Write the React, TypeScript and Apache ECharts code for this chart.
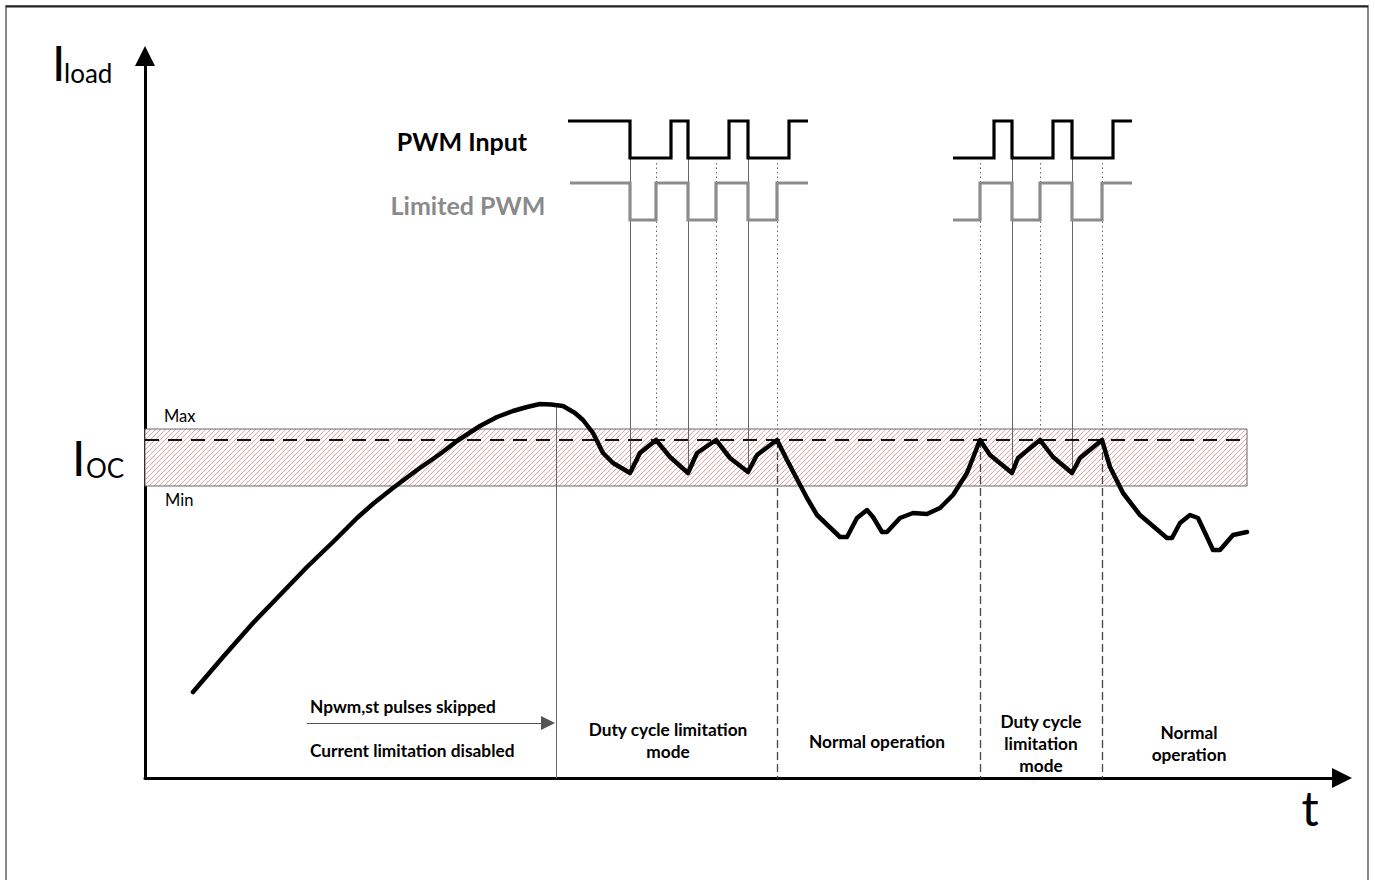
import React, { useEffect, useRef } from "react";
import * as echarts from "echarts";

// Time (t) and load current (I) in arbitrary units
const loadCurve: [number, number][] = [
  [4.8, 8.6], [7.8, 12.1], [10.8, 15.5], [13.5, 18.3], [16.2, 21.1], [18.8, 23.6],
  [21.2, 26.0], [22.9, 27.5], [24.8, 29.0], [27.2, 30.8], [29.5, 32.4], [31.2, 33.7],
  [33.5, 35.2], [35.2, 36.1], [36.8, 36.7], [38.2, 37.1], [39.5, 37.4],
  [40.6, 37.35], [41.8, 37.2], [43.0, 36.5], [43.8, 35.8],
  [44.8, 34.5], [45.8, 32.5], [46.8, 31.5], [48.5, 30.5], [49.5, 32.5], [51.1, 33.8],
  [52.5, 32.1], [54.3, 30.5], [55.2, 32.5], [57.1, 33.8], [58.5, 32.0], [60.3, 30.6],
  [61.2, 32.3], [63.2, 33.8], [64.2, 31.8], [66.2, 28.0], [67.2, 26.3], [69.5, 24.1],
  [70.2, 24.1], [71.2, 26.0], [72.2, 26.8], [72.8, 26.1], [73.7, 24.6], [74.2, 24.6],
  [75.5, 26.0], [76.8, 26.5], [78.2, 26.4], [79.5, 27.0], [80.8, 28.3], [82.2, 30.5],
  [83.5, 33.8], [84.5, 32.3], [86.7, 30.5], [87.3, 32.0], [89.5, 33.8], [90.8, 32.1],
  [92.7, 30.5], [93.5, 32.0], [95.7, 33.8], [96.5, 31.1], [97.8, 28.5], [99.5, 26.3],
  [102.2, 24.0], [102.7, 24.0], [103.5, 25.5], [104.5, 26.3], [105.3, 26.0], [106.2, 24.1],
  [106.8, 22.8], [107.5, 22.8], [108.8, 24.3], [110.2, 24.6],
];

const iocMax = 34.9;
const iocMin = 29.2;
const iocLevel = 33.8;
const bandStart = 0;
const bandEnd = 110.2;

const pwmInputHigh = 65.7;
const pwmInputLow = 62.0;
const limitedHigh = 59.5;
const limitedLow = 55.8;

const pwmInputEdges1 = [42.3, 48.5, 52.6, 54.3, 58.4, 60.3, 64.4, 66.3]; // starts high
const limitedEdges1 = [42.5, 48.5, 51.1, 54.3, 57.1, 60.3, 63.2, 66.3]; // starts high
const pwmInputEdges2 = [80.8, 84.9, 86.7, 90.8, 92.7, 96.8, 98.7]; // starts low
const limitedEdges2 = [80.8, 83.5, 86.7, 89.5, 92.7, 95.7, 98.7]; // starts low

// guide lines: [t, fromI, toI]
const solidGuides: [number, number, number][] = [
  [48.5, 62.0, 30.5], [54.3, 62.0, 30.5], [60.3, 62.0, 30.6],
  [86.7, 62.0, 30.5], [92.7, 62.0, 30.5], [41.1, 37.4, 0],
];
const dottedGuides: [number, number, number][] = [
  [51.1, 61.5, 33.8], [57.1, 61.5, 33.8], [63.2, 61.5, 33.8],
  [83.5, 61.5, 33.8], [89.5, 61.5, 33.8], [95.7, 61.5, 33.8],
];
const dashedGuides: [number, number, number][] = [
  [63.2, 33.8, 0], [83.5, 33.8, 0], [95.7, 33.8, 0],
];
const skipArrow: [number, number][] = [[16.2, 5.5], [40.3, 5.5]];

const xMax = 119.7;
const yMax = 72.2;

function stepPoints(edges: number[], hi: number, lo: number, startHigh: boolean) {
  const pts: [number, number][] = [];
  let level = startHigh ? hi : lo;
  pts.push([edges[0], level]);
  for (let i = 1; i < edges.length - 1; i++) {
    pts.push([edges[i], level]);
    level = level === hi ? lo : hi;
    pts.push([edges[i], level]);
  }
  pts.push([edges[edges.length - 1], level]);
  return pts;
}

function makeHatch() {
  const c = document.createElement("canvas");
  c.width = 5;
  c.height = 5;
  const ctx = c.getContext("2d")!;
  ctx.fillStyle = "#ffffff";
  ctx.fillRect(0, 0, 5, 5);
  ctx.strokeStyle = "#e6a3a3";
  ctx.lineWidth = 1;
  ctx.beginPath();
  ctx.moveTo(-1, 6);
  ctx.lineTo(6, -1);
  ctx.moveTo(-1, 1);
  ctx.lineTo(1, -1);
  ctx.moveTo(4, 6);
  ctx.lineTo(6, 4);
  ctx.stroke();
  return c;
}

const FONT = "Lato, 'Open Sans', sans-serif";

function txt(text: string, x: number, y: number, size: number, opts: any = {}) {
  return {
    type: "text",
    silent: true,
    z: 20,
    style: {
      text,
      x,
      y,
      fill: opts.fill || "#000",
      font: `${opts.bold ? "bold " : ""}${size}px ${FONT}`,
      textAlign: opts.align || "left",
      align: opts.align || "left",
      textVerticalAlign: opts.v || "middle",
      verticalAlign: opts.v || "middle",
    },
  };
}

export default function App() {
  const ref = useRef<HTMLDivElement>(null);
  useEffect(() => {
    document.body.style.margin = "0";
    const chart = echarts.init(ref.current!, undefined, { renderer: "svg" });
    const guideSeries = (arr: [number, number, number][], style: any) => ({
      type: "lines",
      coordinateSystem: "cartesian2d",
      silent: true,
      z: 3,
      lineStyle: { opacity: 1, ...style },
      data: arr.map(([t, a, b]) => ({ coords: [[t, a], [t, b]] })),
    });
    const stepSeries = (data: [number, number][], color: string) => ({
      type: "line",
      data,
      symbol: "none",
      silent: true,
      z: 5,
      lineStyle: { color, width: 3.2, join: "miter" },
    });
    chart.setOption({
      animation: false,
      backgroundColor: "#fff",
      grid: { left: 145, top: 56, width: 1197, height: 722 },
      xAxis: {
        type: "value",
        min: 0,
        max: xMax,
        axisLine: {
          show: true,
          onZero: false,
          lineStyle: { color: "#000", width: 3 },
          symbol: ["none", "triangle"],
          symbolSize: [20, 20],
        },
        axisTick: { show: false },
        axisLabel: { show: false },
        splitLine: { show: false },
      },
      yAxis: {
        type: "value",
        min: 0,
        max: yMax,
        axisLine: {
          show: true,
          onZero: false,
          lineStyle: { color: "#000", width: 3 },
          symbol: ["none", "triangle"],
          symbolSize: [20, 20],
        },
        axisTick: { show: false },
        axisLabel: { show: false },
        splitLine: { show: false },
      },
      series: [
        {
          type: "line",
          name: "Ioc",
          data: [[bandStart, iocLevel], [bandEnd, iocLevel]],
          symbol: "none",
          silent: true,
          z: 4,
          lineStyle: { color: "#111", width: 2, type: [14, 9] },
          markArea: {
            silent: true,
            z: 1,
            itemStyle: {
              color: { image: makeHatch(), repeat: "repeat" },
              borderColor: "#666",
              borderWidth: 1,
            },
            data: [[{ coord: [bandStart, iocMax] }, { coord: [bandEnd, iocMin] }]],
          },
        },
        guideSeries(solidGuides, { color: "#666", width: 1, type: "solid" }),
        guideSeries(dottedGuides, { color: "#666", width: 1, type: [1.5, 3] }),
        guideSeries(dashedGuides, { color: "#444", width: 1.3, type: [8, 4] }),
        {
          type: "lines",
          coordinateSystem: "cartesian2d",
          silent: true,
          z: 3,
          symbol: ["none", "triangle"],
          symbolSize: [13, 14],
          lineStyle: { color: "#555", width: 1, opacity: 1 },
          itemStyle: { color: "#000" },
          data: [{ coords: skipArrow }],
        },
        stepSeries(stepPoints(pwmInputEdges1, pwmInputHigh, pwmInputLow, true), "#000"),
        stepSeries(stepPoints(pwmInputEdges2, pwmInputHigh, pwmInputLow, false), "#000"),
        stepSeries(stepPoints(limitedEdges1, limitedHigh, limitedLow, true), "#8c8c8c"),
        stepSeries(stepPoints(limitedEdges2, limitedHigh, limitedLow, false), "#8c8c8c"),
        {
          type: "line",
          name: "Iload",
          data: loadCurve,
          symbol: "none",
          silent: true,
          z: 6,
          lineStyle: { color: "#000", width: 4.5, join: "round", cap: "round" },
        },
      ],
      graphic: [
        {
          type: "rect",
          silent: true,
          shape: { x: 6, y: 6, width: 1362, height: 890 },
          style: { fill: "none", stroke: "#888", lineWidth: 2 },
        },
        {
          type: "line",
          silent: true,
          shape: { x1: 6, y1: 6.5, x2: 1368, y2: 6.5 },
          style: { stroke: "#222", lineWidth: 2 },
        },
        txt("I", 52, 86, 48, { v: "bottom" }),
        txt("load", 64, 86, 26, { v: "bottom" }),
        txt("I", 72, 481, 48, { v: "bottom" }),
        txt("OC", 86, 481, 26, { v: "bottom" }),
        txt("Max", 164, 416, 16.5),
        txt("Min", 165, 500, 16.5),
        txt("PWM Input", 462, 141, 25, { bold: true, align: "center" }),
        txt("Limited PWM", 468, 205, 25, { bold: true, align: "center", fill: "#8a8a8a" }),
        txt("Npwm,st pulses skipped", 310, 706, 17.3, { bold: true }),
        txt("Current limitation disabled", 310, 750, 17.3, { bold: true }),
        txt("Duty cycle limitation", 668, 729, 17.3, { bold: true, align: "center" }),
        txt("mode", 668, 751, 17.3, { bold: true, align: "center" }),
        txt("Normal operation", 877, 741, 17.3, { bold: true, align: "center" }),
        txt("Duty cycle", 1041, 721, 17.3, { bold: true, align: "center" }),
        txt("limitation", 1041, 743, 17.3, { bold: true, align: "center" }),
        txt("mode", 1041, 765, 17.3, { bold: true, align: "center" }),
        txt("Normal", 1189, 732, 17.3, { bold: true, align: "center" }),
        txt("operation", 1189, 754, 17.3, { bold: true, align: "center" }),
        txt("t", 1310, 831, 48, { align: "center", v: "bottom" }),
      ],
    });
    return () => chart.dispose();
  }, []);
  return (
    <div
      ref={ref}
      style={{ position: "absolute", left: 0, top: 0, width: 1375, height: 880 }}
    />
  );
}
